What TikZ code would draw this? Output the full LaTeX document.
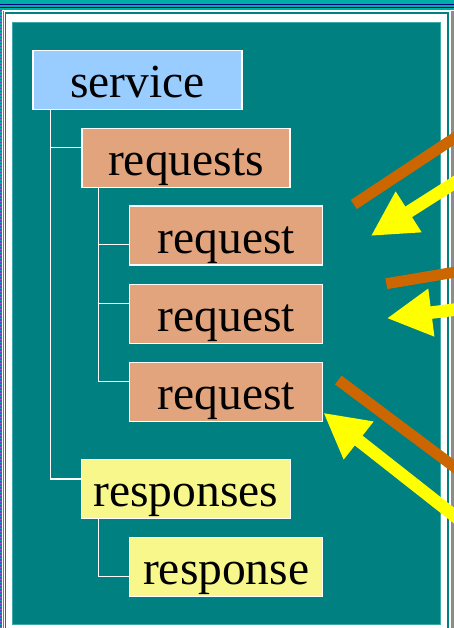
\documentclass[tikz,border=0pt]{standalone}
\usepackage{fontspec}
\setmainfont{Liberation Serif}
\usetikzlibrary{arrows.meta}

\definecolor{mainteal}{HTML}{008080}
\definecolor{topteal}{HTML}{00ADA6}
\definecolor{edgeteal}{HTML}{3FA9A9}
\definecolor{navyline}{HTML}{000080}
\definecolor{dotpurple}{HTML}{6A3FC8}
\definecolor{sidegray}{HTML}{8C8C8C}
\definecolor{svcblue}{HTML}{99CCFF}
\definecolor{reqsalmon}{HTML}{E1A47C}
\definecolor{respyellow}{HTML}{F7F78C}
\definecolor{barbrown}{HTML}{CC6600}
\definecolor{ptryellow}{HTML}{FFFF00}

\tikzset{
  treebox/.style={draw=white, line width=1.2pt, inner sep=0pt,
    minimum height=59pt, text height=45pt, text depth=9.4pt,
    font=\fontsize{47.5}{50}\selectfont},
  svcbox/.style={treebox, fill=svcblue, minimum width=209pt},
  reqsbox/.style={treebox, fill=reqsalmon, minimum width=208pt},
  reqbox/.style={treebox, fill=reqsalmon, minimum width=193pt},
  respsbox/.style={treebox, fill=respyellow, minimum width=209pt},
  respbox/.style={treebox, fill=respyellow, minimum width=193pt},
  branch/.style={draw=white, line width=1.2pt},
  bar/.style={draw=barbrown, line width=11pt},
  pointer/.style={draw=ptryellow, line width=12.5pt,
    -{Triangle[length=45pt,width=45pt]}},
}

\begin{document}
\begin{tikzpicture}[x=1pt, y=-1pt]
  \useasboundingbox (0,0) rectangle (454,628);
  \clip (0,0) rectangle (454,628);

  % window frame
  \fill[white] (0,0) rectangle (454,628);
  \fill[topteal] (0,0) rectangle (454,10);
  \draw[navyline, line width=1pt] (0,4.5) -- (454,4.5);
  \draw[navyline, line width=1pt] (0,7.5) -- (454,7.5);
  \fill[topteal] (0,10) rectangle (1.5,628);
  \draw[dotpurple, line width=1.5pt, dash pattern=on 1.5pt off 1.5pt] (0.75,10) -- (0.75,628);
  \draw[topteal, line width=1pt] (3.5,11) -- (3.5,628);
  \draw[mainteal, line width=1.5pt] (5.5,640) -- (5.5,13) -- (447.8,13) -- (447.8,640);
  \fill[sidegray] (451,11) rectangle (454,628);

  % slide background
  \fill[mainteal] (12.5,22.5) rectangle (440.5,624.5);
  \draw[edgeteal, line width=0.8pt] (12.5,22.5) rectangle (440.5,624.5);

  % tree nodes
  \node[svcbox]   (svc)   at (137.5,79.8)  {service};
  \node[reqsbox]  (reqs)  at (186,157.7)   {requests};
  \node[reqbox]   (req1)  at (226.2,235.5) {request};
  \node[reqbox]   (req2)  at (226.2,313.8) {request};
  \node[reqbox]   (req3)  at (226.2,391.7) {request};
  \node[respsbox] (resps) at (185.8,489)   {responses};
  \node[respbox]  (resp1) at (226.2,567)   {response};

  % tree connectors
  \coordinate (trunkA) at (50.3,0);
  \coordinate (trunkB) at (98.3,0);
  \draw[branch] (svc.south -| trunkA) |- ([yshift=10pt]reqs.west);
  \draw[branch] (svc.south -| trunkA) |- ([yshift=10pt]resps.west);
  \draw[branch] (reqs.south -| trunkB) |- ([yshift=-9pt]req1.west);
  \draw[branch] (reqs.south -| trunkB) |- ([yshift=10pt]req2.west);
  \draw[branch] (reqs.south -| trunkB) |- ([yshift=10pt]req3.west);
  \draw[branch] (resps.south -| trunkB) |- ([yshift=-9.7pt]resp1.west);

  % incoming bars and pointers
  \coordinate (barAs) at (353.8,204.5);
  \coordinate (barAe) at (504,105.3);
  \coordinate (ptrAs) at (504,151.2);
  \coordinate (ptrAe) at (370.7,236);
  \coordinate (barBs) at (386.3,283.7);
  \coordinate (barBe) at (521.7,260.9);
  \coordinate (ptrBs) at (521.3,301.1);
  \coordinate (ptrBe) at (386.7,318.3);
  \coordinate (barCs) at (338.3,380);
  \coordinate (barCe) at (511.9,510);
  \coordinate (ptrCs) at (519.7,567.2);

  \draw[bar] (barAs) -- (barAe);
  \draw[pointer] (ptrAs) -- (ptrAe);
  \draw[bar] (barBs) -- (barBe);
  \draw[pointer] (ptrBs) -- (ptrBe);
  \draw[bar] (barCs) -- (barCe);
  \draw[pointer] (ptrCs) -- ([yshift=-21pt]req3.east);
\end{tikzpicture}
\end{document}
